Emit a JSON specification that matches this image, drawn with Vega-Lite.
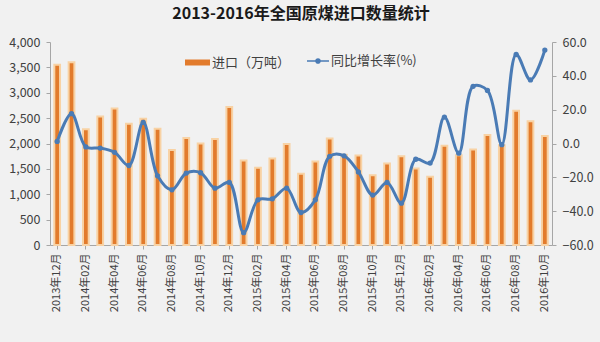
{
  "$schema": "https://vega.github.io/schema/vega-lite/v6.json",
  "autosize": {"type": "none"},
  "width": 502,
  "height": 203,
  "padding": {"left": 50, "top": 42, "right": 48, "bottom": 97},
  "background": "#f1f1f1",
  "title": {
    "text": "2013-2016年全国原煤进口数量统计",
    "font": "Noto Sans CJK SC",
    "fontSize": 16,
    "fontWeight": "bold",
    "color": "#1a1a1a",
    "anchor": "middle",
    "offset": 14
  },
  "config": {
    "view": {"stroke": null},
    "font": "Noto Sans CJK SC",
    "axis": {
      "labelFont": "Noto Sans CJK SC",
      "labelColor": "#404040",
      "domainColor": "#a6a6a6",
      "tickColor": "#a6a6a6",
      "grid": false,
      "title": null
    }
  },
  "data": {
    "values": [
      {"m": "2013年12月", "imp": 3550, "yoy": 1.2},
      {"m": "2014年01月", "imp": 3600, "yoy": 17.6},
      {"m": "2014年02月", "imp": 2280, "yoy": -2.0},
      {"m": "2014年03月", "imp": 2530, "yoy": -2.7},
      {"m": "2014年04月", "imp": 2690, "yoy": -5.2},
      {"m": "2014年05月", "imp": 2390, "yoy": -13.0},
      {"m": "2014年06月", "imp": 2490, "yoy": 12.5},
      {"m": "2014年07月", "imp": 2290, "yoy": -19.1},
      {"m": "2014年08月", "imp": 1870, "yoy": -27.4},
      {"m": "2014年09月", "imp": 2110, "yoy": -17.5},
      {"m": "2014年10月", "imp": 2000, "yoy": -17.3},
      {"m": "2014年11月", "imp": 2090, "yoy": -26.4},
      {"m": "2014年12月", "imp": 2720, "yoy": -23.0},
      {"m": "2015年01月", "imp": 1665, "yoy": -52.7},
      {"m": "2015年02月", "imp": 1520, "yoy": -33.3},
      {"m": "2015年03月", "imp": 1705, "yoy": -32.7},
      {"m": "2015年04月", "imp": 1990, "yoy": -26.4},
      {"m": "2015年05月", "imp": 1405, "yoy": -40.8},
      {"m": "2015年06月", "imp": 1645, "yoy": -33.3},
      {"m": "2015年07月", "imp": 2100, "yoy": -7.6},
      {"m": "2015年08月", "imp": 1780, "yoy": -7.3},
      {"m": "2015年09月", "imp": 1765, "yoy": -16.8},
      {"m": "2015年10月", "imp": 1373, "yoy": -30.5},
      {"m": "2015年11月", "imp": 1604, "yoy": -23.0},
      {"m": "2015年12月", "imp": 1750, "yoy": -35.3},
      {"m": "2016年01月", "imp": 1505, "yoy": -9.3},
      {"m": "2016年02月", "imp": 1345, "yoy": -11.6},
      {"m": "2016年03月", "imp": 1955, "yoy": 15.6},
      {"m": "2016年04月", "imp": 1770, "yoy": -5.7},
      {"m": "2016年05月", "imp": 1880, "yoy": 33.8},
      {"m": "2016年06月", "imp": 2168, "yoy": 31.4},
      {"m": "2016年07月", "imp": 1965, "yoy": -0.7},
      {"m": "2016年08月", "imp": 2645, "yoy": 52.6},
      {"m": "2016年09月", "imp": 2440, "yoy": 37.6},
      {"m": "2016年10月", "imp": 2150, "yoy": 55.2}
    ]
  },
  "encoding": {
    "x": {
      "field": "m",
      "type": "ordinal",
      "sort": null,
      "scale": {"paddingInner": 0.6, "paddingOuter": 0.3},
      "axis": {
        "values": ["2013年12月", "2014年02月", "2014年04月", "2014年06月", "2014年08月", "2014年10月", "2014年12月", "2015年02月", "2015年04月", "2015年06月", "2015年08月", "2015年10月", "2015年12月", "2016年02月", "2016年04月", "2016年06月", "2016年08月", "2016年10月"],
        "labelAngle": -90,
        "labelFontSize": 11,
        "labelPadding": 4,
        "tickSize": 4
      }
    }
  },
  "layer": [
    {
      "mark": {"type": "bar", "stroke": "#f8d2a4", "strokeWidth": 2},
      "encoding": {
        "y": {
          "field": "imp",
          "type": "quantitative",
          "scale": {"domain": [0, 4000], "nice": false},
          "axis": {
            "orient": "left",
            "values": [0, 500, 1000, 1500, 2000, 2500, 3000, 3500, 4000],
            "format": ",.0f",
            "labelFontSize": 12.5,
            "tickSize": 4,
            "labelPadding": 6
          }
        },
        "fill": {
          "datum": "进口（万吨）",
          "scale": {"range": ["#e27b2c"]},
          "legend": {
            "title": null,
            "orient": "none",
            "legendX": 135,
            "legendY": 8,
            "symbolType": "M-1,-0.24H1V0.24H-1Z",
            "symbolSize": 625,
            "symbolStrokeWidth": 0,
            "labelFontSize": 13,
            "labelColor": "#404040",
            "labelOffset": 2
          }
        }
      }
    },
    {
      "mark": {"type": "line", "interpolate": "catmull-rom", "strokeWidth": 3},
      "encoding": {
        "y": {
          "field": "yoy",
          "type": "quantitative",
          "scale": {"domain": [-60, 60], "nice": false},
          "axis": {
            "orient": "right",
            "values": [-60, -40, -20, 0, 20, 40, 60],
            "format": ".1f",
            "labelFontSize": 12.5,
            "tickSize": 4,
            "labelPadding": 6
          }
        },
        "stroke": {
          "datum": "同比增长率(%)",
          "scale": {"range": ["#4a7bb5"]},
          "legend": {
            "title": null,
            "orient": "none",
            "legendX": 257,
            "legendY": 8,
            "symbolType": "M-1,-0.07H1V0.07H-1Z M0.26,0A0.26,0.26,0,1,1,-0.26,0A0.26,0.26,0,1,1,0.26,0Z",
            "symbolSize": 484,
            "symbolFillColor": "#4a7bb5",
            "symbolStrokeWidth": 0,
            "labelFontSize": 13,
            "labelColor": "#404040",
            "labelOffset": 2
          }
        }
      }
    },
    {
      "mark": {"type": "point", "filled": true, "size": 28, "color": "#4a7bb5", "opacity": 1},
      "encoding": {
        "y": {"field": "yoy", "type": "quantitative", "scale": {"domain": [-60, 60], "nice": false}, "axis": null}
      }
    }
  ],
  "resolve": {"scale": {"y": "independent"}}
}
